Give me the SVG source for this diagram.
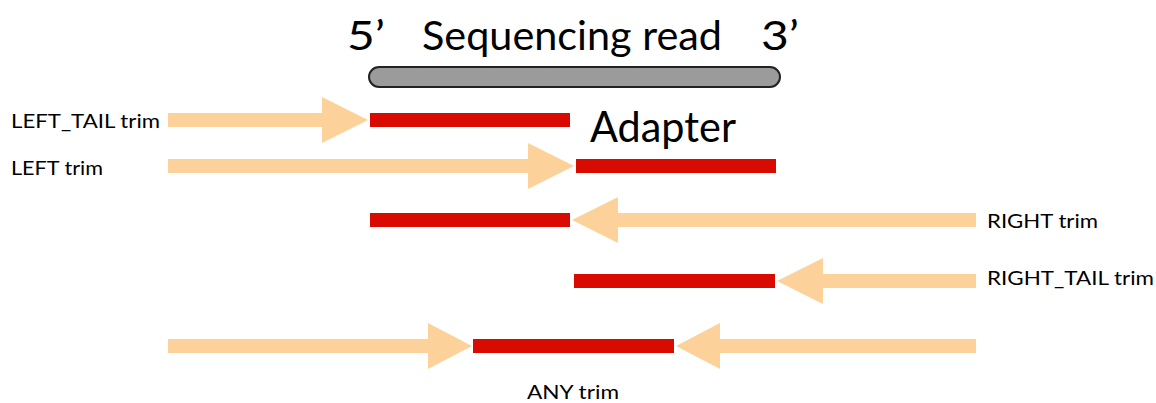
<svg xmlns="http://www.w3.org/2000/svg" width="1156" height="403" viewBox="0 0 1156 403">
  <style>
    .lbl { font-family: Lato, "Liberation Sans", sans-serif; fill: #000; }
    .small { font-size: 18.5px; }
    .big { font-size: 40px; }
    .arrow { fill: #fdd29a; }
    .adapter { fill: #d90b00; }
  </style>
  <rect width="1156" height="403" fill="#fff"/>

  <!-- read header -->
  <g id="read">
    <text class="lbl big" x="347" y="50" textLength="38" lengthAdjust="spacingAndGlyphs">5’</text>
    <text class="lbl big" x="422" y="50" textLength="300" lengthAdjust="spacingAndGlyphs">Sequencing read</text>
    <text class="lbl big" x="761" y="50" textLength="38" lengthAdjust="spacingAndGlyphs">3’</text>
    <rect x="369" y="67" width="411" height="20" rx="10" fill="#9b9b9b" stroke="#222" stroke-width="2"/>
  </g>

  <g id="adapter-label">
    <text class="lbl" font-size="43" x="590" y="142" textLength="146" lengthAdjust="spacingAndGlyphs">Adapter</text>
  </g>

  <!-- adapter segments -->
  <g id="adapters">
    <rect class="adapter" x="370" y="113" width="200" height="14"/>
    <rect class="adapter" x="576" y="159" width="200" height="14"/>
    <rect class="adapter" x="370" y="213" width="200" height="14"/>
    <rect class="adapter" x="574" y="274" width="201" height="14"/>
    <rect class="adapter" x="473" y="339" width="201" height="14"/>
  </g>

  <!-- trimming arrows -->
  <g id="connectors">
    <polygon class="arrow" points="168,113 322,113 322,97 368,120 322,143 322,127 168,127"/>
    <polygon class="arrow" points="168,159 528,159 528,143 574,166 528,189 528,173 168,173"/>
    <polygon class="arrow" points="976,213 618,213 618,197 572,220 618,243 618,227 976,227"/>
    <polygon class="arrow" points="976,274 823,274 823,258 777,281 823,304 823,288 976,288"/>
    <polygon class="arrow" points="168,339 428,339 428,323 472,346 428,369 428,353 168,353"/>
    <polygon class="arrow" points="976,339 720,339 720,323 676,346 720,369 720,353 976,353"/>
  </g>

  <g id="left-tail"><text class="lbl small" x="11" y="128" textLength="149" lengthAdjust="spacingAndGlyphs">LEFT_TAIL trim</text></g>
  <g id="left"><text class="lbl small" x="11" y="175" textLength="92" lengthAdjust="spacingAndGlyphs">LEFT trim</text></g>
  <g id="right"><text class="lbl small" x="987" y="228" textLength="111" lengthAdjust="spacingAndGlyphs">RIGHT trim</text></g>
  <g id="right-tail"><text class="lbl small" x="987" y="285" textLength="167" lengthAdjust="spacingAndGlyphs">RIGHT_TAIL trim</text></g>
  <g id="any"><text class="lbl small" x="527" y="399" textLength="92" lengthAdjust="spacingAndGlyphs">ANY trim</text></g>
</svg>
